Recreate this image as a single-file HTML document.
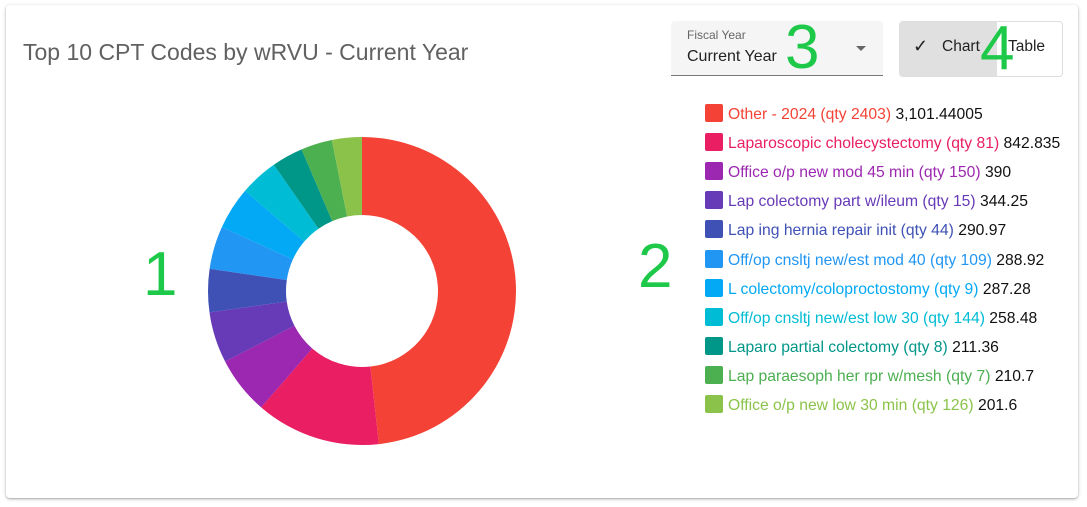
<!DOCTYPE html>
<html><head><style>
body{margin:0;background:#fff;width:1087px;height:507px;position:relative;overflow:hidden;font-family:"Liberation Sans",sans-serif}
.card{position:absolute;left:6px;top:5px;width:1072px;height:493px;background:#fff;border-radius:4px;box-shadow:0 1px 3px rgba(0,0,0,.3),0 1px 1px rgba(0,0,0,.1)}
.t{position:absolute;white-space:nowrap}
.big{position:absolute;color:#1ec94a;font-size:62px;line-height:1}
.leg{position:absolute;left:705px;font-size:15.7px;white-space:nowrap}
.leg span.sq{display:inline-block;width:18px;height:18px;border-radius:2px;vertical-align:-3px;margin-right:5px}
</style></head><body>
<div class="card"></div>
<div class="t" style="left:23px;top:39px;font-size:23px;color:#616161">Top 10 CPT Codes by wRVU - Current Year</div>
<div style="position:absolute;left:671px;top:21px;width:212px;height:54px;background:#f5f5f5;border-bottom:1.5px solid #777;border-radius:4px 4px 0 0"></div>
<div class="t" style="left:687px;top:28px;font-size:12px;color:#666">Fiscal Year</div>
<div class="t" style="left:687px;top:48px;font-size:16px;color:#222">Current Year</div>
<div style="position:absolute;left:856px;top:46px;border-left:5px solid transparent;border-right:5px solid transparent;border-top:5px solid #666"></div>
<div style="position:absolute;left:899px;top:21px;width:162px;height:54px;border:1px solid #ddd;border-radius:4px;overflow:hidden"><div style="width:97px;height:54px;background:#e0e0e0"></div></div>
<div class="t" style="left:913px;top:36px;font-size:18px;color:#222">✓</div>
<div class="t" style="left:942px;top:38px;font-size:15.5px;color:#222">Chart</div>
<div class="t" style="left:1008px;top:38px;font-size:15.5px;color:#222">Table</div>
<svg id="d" style="position:absolute;left:0;top:0" width="1087" height="507"></svg>
<div class="big" style="left:143px;top:244px">1</div>
<div class="big" style="left:638px;top:236px">2</div>
<div class="big" style="left:785px;top:17px">3</div>
<div class="big" style="left:980px;top:18px">4</div>
<div id="L"></div>
<script>
var data=[["Other - 2024 (qty 2403)","3,101.44005",3101.44,"#F44336"],["Laparoscopic cholecystectomy (qty 81)","842.835",842.835,"#E91E63"],["Office o/p new mod 45 min (qty 150)","390",390,"#9C27B0"],["Lap colectomy part w/ileum (qty 15)","344.25",344.25,"#673AB7"],["Lap ing hernia repair init (qty 44)","290.97",290.97,"#3F51B5"],["Off/op cnsltj new/est mod 40 (qty 109)","288.92",288.92,"#2196F3"],["L colectomy/coloproctostomy (qty 9)","287.28",287.28,"#03A9F4"],["Off/op cnsltj new/est low 30 (qty 144)","258.48",258.48,"#00BCD4"],["Laparo partial colectomy (qty 8)","211.36",211.36,"#009688"],["Lap paraesoph her rpr w/mesh (qty 7)","210.7",210.7,"#4CAF50"],["Office o/p new low 30 min (qty 126)","201.6",201.6,"#8BC34A"]];
var tot=0;data.forEach(d=>tot+=d[2]);
var cx=362,cy=291,R=154,r=76,a=0,s="",h="";
function p(rad,ang){return (cx+rad*Math.sin(ang)).toFixed(2)+" "+(cy-rad*Math.cos(ang)).toFixed(2)}
data.forEach((d,i)=>{var b=a+d[2]/tot*2*Math.PI,lg=(b-a)>Math.PI?1:0;
s+='<path fill="'+d[3]+'" d="M'+p(R,a)+' A'+R+' '+R+' 0 '+lg+' 1 '+p(R,b)+' L'+p(r,b)+' A'+r+' '+r+' 0 '+lg+' 0 '+p(r,a)+'Z"/>';a=b;
h+='<div class="leg" style="top:'+(104+i*29.1)+'px"><span class="sq" style="background:'+d[3]+'"></span><span style="color:'+d[3]+'">'+d[0]+'</span> <span style="color:#111">'+d[1]+'</span></div>';});
document.getElementById('d').innerHTML=s;document.getElementById('L').innerHTML=h;
</script>
</body></html>
